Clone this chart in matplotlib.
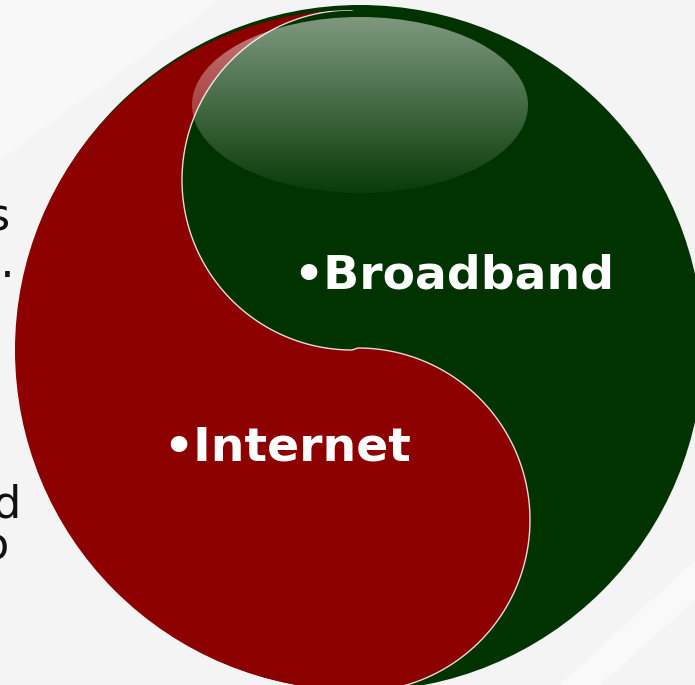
import numpy as np
import matplotlib
matplotlib.use('Agg')
import matplotlib.pyplot as plt
from matplotlib.patches import Circle, Ellipse, Polygon

# labels and text fragments
labels = ['\u2022Broadband', '\u2022Internet']
label_pos = [(293, 288), (163, 460)]
side_text = ['s', 'e.', 'd', 'o']
side_pos = [(10, 230), (15, 277), (21, 517), (9, 560)]

red = '#8c0000'
green = '#003300'

fig = plt.figure(figsize=(6.95, 6.85), dpi=100)
fig.patch.set_facecolor('#f4f4f4')
ax = fig.add_axes([0, 0, 1, 1])
ax.set_xlim(0, 695)
ax.set_ylim(685, 0)
ax.axis('off')

# faint background streaks
ax.add_patch(Polygon([(560, 685), (695, 560), (695, 600), (600, 685)], color='white', alpha=0.5, lw=0))
ax.add_patch(Polygon([(0, 0), (220, 0), (0, 160)], color='white', alpha=0.4, lw=0))

for (x, y), s in zip(side_pos, side_text):
    ax.text(x, y, s, fontsize=32, color='#111111', ha='right', va='baseline')

# green body
ax.add_patch(Circle((360, 348), 343, color=green, lw=0))

# s-curve
t = np.linspace(0, np.pi, 200)
up_x = 352 - 170 * np.sin(t)
up_y = 180 - 170 * np.cos(t)
lo_x = 358 + 172 * np.sin(t)
lo_y = 520 - 172 * np.cos(t)
sx = np.concatenate([up_x, lo_x])
sy = np.concatenate([up_y, lo_y])

pts = list(zip(sx, sy)) + [(358, 760), (-60, 760), (-60, -60), (352, -60)]
red_circ = Circle((355, 350), 340, facecolor='none', edgecolor='none')
ax.add_patch(red_circ)
redpoly = Polygon(pts, closed=True, color=red, lw=0)
ax.add_patch(redpoly)
redpoly.set_clip_path(red_circ)

ln, = ax.plot(sx, sy, color='white', lw=1.0, alpha=0.85)
ln.set_clip_path(red_circ)

# glossy highlight
h = 200
grad = np.zeros((h, 10, 4))
a = 0.5 - 0.46 * np.linspace(0, 1, h)
grad[..., :3] = 1.0
grad[..., 3] = a[:, None]
ell = Ellipse((360, 105), 336, 176, facecolor='none', edgecolor='none')
ax.add_patch(ell)
im = ax.imshow(grad, extent=[192, 528, 193, 17], origin='upper', aspect='auto',
               interpolation='bilinear', zorder=3)
im.set_clip_path(ell)
ax.set_xlim(0, 695)
ax.set_ylim(685, 0)

for (x, y), s in zip(label_pos, labels):
    ax.text(x, y, s, fontsize=34, fontweight='bold', color='white', ha='left', va='baseline', zorder=4)

fig.savefig('out.png', dpi=100, facecolor=fig.get_facecolor())
